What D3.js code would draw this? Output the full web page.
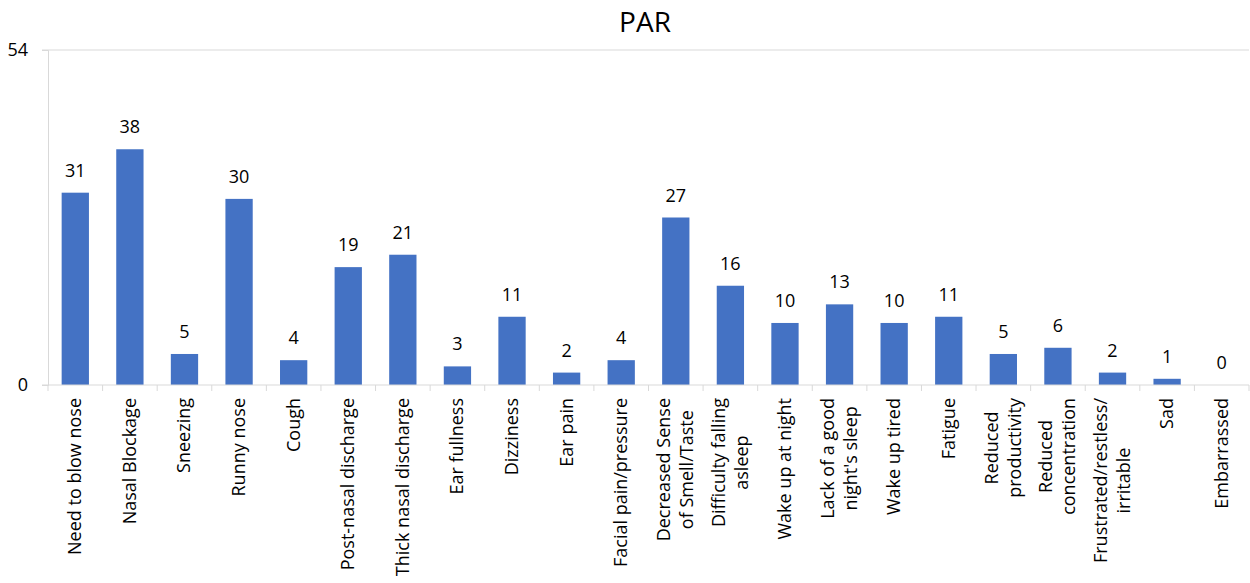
<!DOCTYPE html>
<html>
<head>
<meta charset="utf-8">
<style>
  body { margin: 0; background: #fff; }
  text { font-family: "Open Sans", sans-serif; fill: #000; }
</style>
</head>
<body>
<div id="chart"></div>
<script src="https://cdn.jsdelivr.net/npm/d3@7"></script>
<script>
var categories = [
  "Need to blow nose", "Nasal Blockage", "Sneezing", "Runny nose", "Cough",
  "Post-nasal discharge", "Thick nasal discharge", "Ear fullness", "Dizziness",
  "Ear pain", "Facial pain/pressure", "Decreased Sense\nof Smell/Taste",
  "Difficulty falling\nasleep", "Wake up at night", "Lack of a good\nnight's sleep",
  "Wake up tired", "Fatigue", "Reduced\nproductivity", "Reduced\nconcentration",
  "Frustrated/restless/\nirritable", "Sad", "Embarrassed"
];
var values = [31, 38, 5, 30, 4, 19, 21, 3, 11, 2, 4, 27, 16, 10, 13, 10, 11, 5, 6, 2, 1, 0];
var yTicks = [0, 54];

var width = 1250, height = 583;
var mLeft = 48, mRight = 1249, mTop = 50, mBottom = 385;

var svg = d3.select("#chart").append("svg")
  .attr("width", width)
  .attr("height", height);

var x = d3.scaleBand()
  .domain(categories)
  .range([mLeft, mRight])
  .paddingInner(0.5)
  .paddingOuter(0.25);

var y = d3.scaleLinear()
  .domain([0, 54])
  .range([mBottom, mTop]);

// top gridline
svg.append("g")
  .selectAll("line")
  .data(yTicks.filter(function(d) { return d > 0; }))
  .enter().append("line")
    .attr("x1", mLeft - 6).attr("x2", mRight)
    .attr("y1", function(d) { return y(d); })
    .attr("y2", function(d) { return y(d); })
    .attr("stroke", "#d9d9d9");

// y axis
var yAxis = svg.append("g")
  .attr("transform", "translate(" + mLeft + ",0)")
  .call(d3.axisLeft(y).tickValues(yTicks).tickSize(6).tickPadding(14));
yAxis.select(".domain").attr("stroke", "#d9d9d9");
yAxis.selectAll(".tick line").attr("stroke", "#d9d9d9");
yAxis.selectAll(".tick text").style("font-size", "18px").attr("fill", "#000")
  .style("font-family", "'Open Sans', sans-serif");

// bars
svg.append("g")
  .selectAll("rect")
  .data(values)
  .enter().append("rect")
    .attr("x", function(d, i) { return x(categories[i]); })
    .attr("y", function(d) { return y(d); })
    .attr("width", x.bandwidth())
    .attr("height", function(d) { return y(0) - y(d); })
    .attr("fill", "#4472C4");

// value labels
svg.append("g")
  .selectAll("text")
  .data(values)
  .enter().append("text")
    .attr("x", function(d, i) { return x(categories[i]) + x.bandwidth() / 2; })
    .attr("y", function(d) { return y(d) - 16; })
    .attr("text-anchor", "middle")
    .style("font-size", "18px")
    .text(function(d) { return d; });

// x axis
var step = x.step();
var xAxis = svg.append("g").attr("transform", "translate(0," + mBottom + ")");
xAxis.append("line")
  .attr("x1", mLeft - 6).attr("x2", mRight)
  .attr("stroke", "#d9d9d9");
xAxis.selectAll(".xt")
  .data(d3.range(categories.length + 1))
  .enter().append("line")
    .attr("class", "xt")
    .attr("x1", function(i) { return mLeft + i * step; })
    .attr("x2", function(i) { return mLeft + i * step; })
    .attr("y1", 0).attr("y2", 6)
    .attr("stroke", "#d9d9d9");

// category labels, rotated, multi-line centred within block
var lineH = 23;
categories.forEach(function(c, i) {
  var lines = c.split("\n");
  var cx = x(c) + x.bandwidth() / 2;
  var g = svg.append("g")
    .attr("transform", "translate(" + cx + "," + (mBottom + 13) + ") rotate(-90)");
  var texts = lines.map(function(l, k) {
    return g.append("text")
      .style("font-size", "18px")
      .attr("text-anchor", "middle")
      .attr("y", (k - (lines.length - 1) / 2) * lineH + 6)
      .text(l);
  });
  var maxW = d3.max(texts, function(t) { return t.node().getComputedTextLength(); });
  texts.forEach(function(t) { t.attr("x", -maxW / 2); });
});

// title
svg.append("text")
  .attr("x", 645)
  .attr("y", 32)
  .attr("text-anchor", "middle")
  .style("font-size", "28px")
  .text("PAR");
</script>
</body>
</html>
